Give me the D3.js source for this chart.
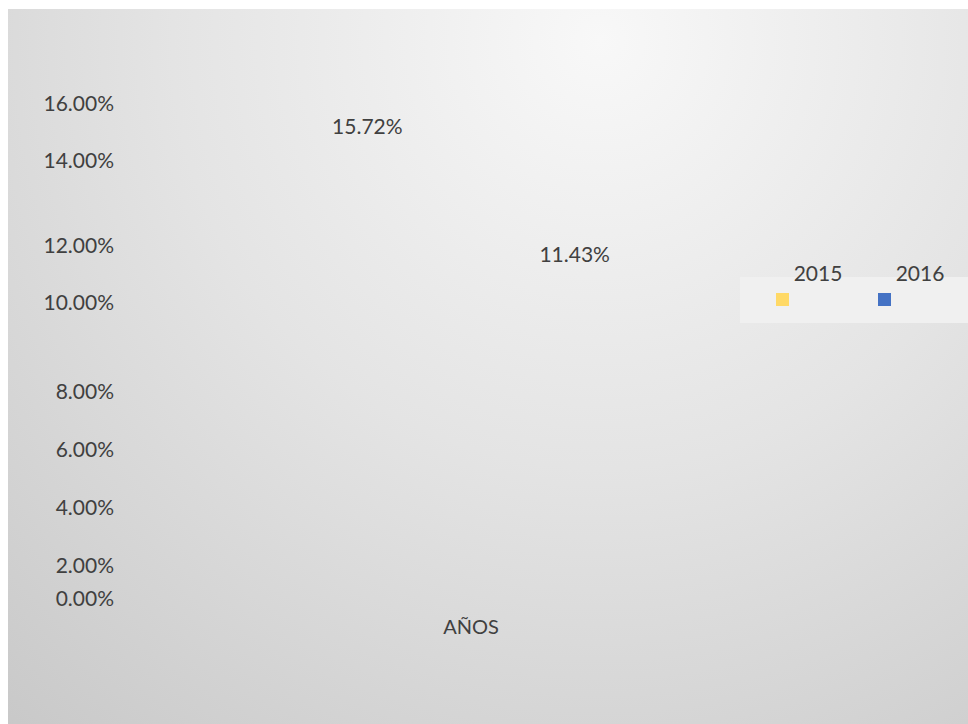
<!DOCTYPE html>
<html>
<head>
<meta charset="utf-8">
<script src="https://cdn.jsdelivr.net/npm/d3@7"></script>
<style>
  html, body { margin: 0; padding: 0; background: #fff; }
  svg { display: block; }
  text { font-family: Lato, "Open Sans", sans-serif; fill: #404040; }
</style>
</head>
<body>
<div id="chart"></div>
<script>
// data
var categories = ["AÑOS"];
var seriesNames = ["2015", "2016"];
var values2015 = [0.1572];
var values2016 = [0.1143];
var tickValues = [0, 0.02, 0.04, 0.06, 0.08, 0.10, 0.12, 0.14, 0.16];
var seriesColors = ["#FFD966", "#4472C4"];

var width = 968, height = 724;
var frame = {left: 8, top: 9};
var plot = {left: 160, right: 782, top: 118, bottom: 595};

var svg = d3.select("#chart").append("svg")
    .attr("width", width)
    .attr("height", height);

// background gradient
var defs = svg.append("defs");
var grad = defs.append("radialGradient")
    .attr("id", "bg")
    .attr("gradientUnits", "userSpaceOnUse")
    .attr("cx", 600).attr("cy", 40).attr("r", 950);
grad.append("stop").attr("offset", "0%").attr("stop-color", "#f8f8f8");
grad.append("stop").attr("offset", "45%").attr("stop-color", "#e4e4e4");
grad.append("stop").attr("offset", "100%").attr("stop-color", "#c6c6c6");

svg.append("rect")
    .attr("x", frame.left).attr("y", frame.top)
    .attr("width", width - frame.left).attr("height", height - frame.top)
    .attr("fill", "url(#bg)");

// scales
var y = d3.scaleLinear()
    .domain([0, 0.16])
    .range([plot.bottom, plot.top]);

// tick labels are laid out unevenly in the reference
var yTicks = d3.scaleLinear()
    .domain(tickValues)
    .range([599, 566, 508, 450, 392, 303, 246, 161, 104]);

var x0 = d3.scaleBand()
    .domain(categories)
    .range([plot.left, plot.right]);

var x1 = d3.scaleBand()
    .domain(seriesNames)
    .range([x0.bandwidth() / 6, x0.bandwidth() * 5 / 6]);

var color = d3.scaleOrdinal().domain(seriesNames).range(seriesColors);

var fmt = d3.format(".2%");

// y axis labels
var yAxis = d3.axisLeft(yTicks)
    .tickValues(tickValues)
    .tickSize(0)
    .tickPadding(0)
    .tickFormat(fmt);

var gy = svg.append("g")
    .attr("transform", "translate(114,0)")
    .call(yAxis);
gy.select(".domain").remove();
gy.selectAll("text")
    .style("font-family", "Lato, 'Open Sans', sans-serif")
    .style("font-size", "21px")
    .attr("fill", "#404040");

// bars (not visible in the reference)
var rows = categories.map(function(c, i) {
  return {cat: c, values: [
    {name: "2015", value: values2015[i]},
    {name: "2016", value: values2016[i]}
  ]};
});

var groups = svg.selectAll(".cat").data(rows).enter()
  .append("g")
    .attr("class", "cat")
    .attr("transform", function(d) { return "translate(" + x0(d.cat) + ",0)"; });

groups.selectAll("rect").data(function(d) { return d.values; }).enter()
  .append("rect")
    .attr("x", function(d) { return x1(d.name); })
    .attr("y", function(d) { return y(d.value); })
    .attr("width", x1.bandwidth())
    .attr("height", function(d) { return y(0) - y(d.value); })
    .attr("fill", function(d) { return color(d.name); })
    .attr("fill-opacity", 0);

groups.selectAll(".lbl").data(function(d) { return d.values; }).enter()
  .append("text")
    .attr("class", "lbl")
    .attr("x", function(d) { return x1(d.name) + x1.bandwidth() / 2; })
    .attr("y", function(d) { return y(d.value); })
    .attr("dy", "0.35em")
    .attr("text-anchor", "middle")
    .style("font-size", "21px")
    .text(function(d) { return fmt(d.value); });

// category label
svg.selectAll(".xlab").data(categories).enter()
  .append("text")
    .attr("class", "xlab")
    .attr("x", function(d) { return x0(d) + x0.bandwidth() / 2; })
    .attr("y", 627)
    .attr("dy", "0.35em")
    .attr("text-anchor", "middle")
    .style("font-size", "20px")
    .text(function(d) { return d; });

// legend
var legend = svg.append("g").attr("transform", "translate(740,277)");
legend.append("rect")
    .attr("width", 228).attr("height", 46)
    .attr("fill", "#f0f0f0");

var items = legend.selectAll(".item").data(seriesNames).enter()
  .append("g")
    .attr("class", "item")
    .attr("transform", function(d, i) { return "translate(" + (36 + i * 102) + ",0)"; });

items.append("rect")
    .attr("y", 16)
    .attr("width", 13).attr("height", 13)
    .attr("fill", function(d) { return color(d); });

items.append("text")
    .attr("x", 42)
    .attr("y", -3)
    .attr("dy", "0.35em")
    .attr("text-anchor", "middle")
    .style("font-size", "21px")
    .text(function(d) { return d; });
</script>
</body>
</html>
